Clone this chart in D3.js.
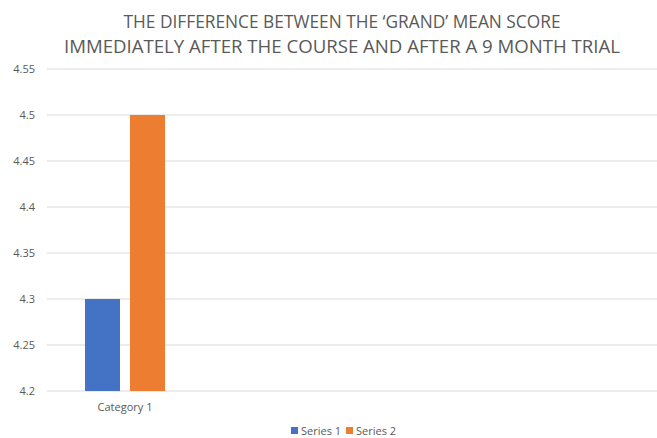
<!DOCTYPE html>
<html>
<head>
<meta charset="utf-8">
<script src="https://cdn.jsdelivr.net/npm/d3@7"></script>
<style>
  body { margin: 0; background: #fff; }
  text { font-family: "Open Sans", "Liberation Sans", sans-serif; fill: #595959; }
</style>
</head>
<body>
<script>
var width = 657, height = 438;

// data
const categories = ["Category 1"];
const seriesNames = ["Series 1", "Series 2"];
const series1 = [4.3];
const series2 = [4.5];
const yTicks = [4.2, 4.25, 4.3, 4.35, 4.4, 4.45, 4.5, 4.55];
const titleLines = ["THE DIFFERENCE BETWEEN THE \u2018GRAND\u2019 MEAN SCORE",
                    "IMMEDIATELY AFTER THE COURSE AND AFTER A 9 MONTH TRIAL"];
const colors = ["#4472C4", "#ED7D31"];

var svg = d3.select("body").append("svg")
  .attr("width", width).attr("height", height);

var plotLeft = 47, plotRight = 657, plotTop = 69, plotBottom = 391;

var yscale = d3.scaleLinear().domain([4.2, 4.55]).range([plotBottom, plotTop]);
// only the first category band is visible in the chart
var xscale = d3.scaleBand().domain(categories).range([plotLeft, plotLeft + 156]);
var inner = d3.scaleBand().domain(seriesNames)
  .range([0, xscale.bandwidth()]).paddingInner(0.222).paddingOuter(0.844);

// gridlines
svg.append("g").selectAll("line")
  .data(yTicks).enter().append("line")
  .attr("x1", plotLeft).attr("x2", plotRight)
  .attr("y1", d => yscale(d)).attr("y2", d => yscale(d))
  .attr("stroke", "#d9d9d9").attr("stroke-width", 1);

// y axis labels
var y_axis = d3.axisLeft(yscale).tickValues(yTicks).tickSize(0).tickPadding(0)
  .tickFormat(d3.format(""));
var yg = svg.append("g").attr("transform", "translate(35,0)").call(y_axis);
yg.select(".domain").remove();
yg.selectAll("text").style("font-size", "11px").attr("fill", "#595959")
  .attr("font-family", "Open Sans, Liberation Sans, sans-serif");

// bars
var rows = categories.map((c, i) => ({ cat: c, vals: [series1[i], series2[i]] }));
var groups = svg.selectAll("g.cat").data(rows).enter().append("g")
  .attr("class", "cat")
  .attr("transform", d => "translate(" + xscale(d.cat) + ",0)");
groups.selectAll("rect")
  .data(d => d.vals.map((v, j) => ({ name: seriesNames[j], v: v, j: j })))
  .enter().append("rect")
  .attr("x", d => inner(d.name))
  .attr("width", inner.bandwidth())
  .attr("y", d => yscale(d.v))
  .attr("height", d => plotBottom - yscale(d.v))
  .attr("fill", d => colors[d.j]);

// category labels
svg.selectAll("text.cat").data(categories).enter().append("text")
  .attr("class", "cat")
  .attr("x", d => xscale(d) + xscale.bandwidth() / 2)
  .attr("y", 411)
  .attr("text-anchor", "middle")
  .style("font-size", "11px")
  .text(d => d);

// title
svg.selectAll("text.title").data(titleLines).enter().append("text")
  .attr("class", "title")
  .attr("x", 342)
  .attr("y", (d, i) => 28 + i * 25)
  .attr("text-anchor", "middle")
  .attr("textLength", (d, i) => i == 0 ? 437 : 556)
  .attr("lengthAdjust", "spacingAndGlyphs")
  .style("font-size", "18px")
  .text(d => d);

// legend
var legendX = [291, 346];
var lg = svg.selectAll("g.legend").data(seriesNames).enter().append("g")
  .attr("class", "legend")
  .attr("transform", (d, i) => "translate(" + legendX[i] + ",427)");
lg.append("rect").attr("width", 7).attr("height", 7).attr("y", 0)
  .attr("fill", (d, i) => colors[i]);
lg.append("text").attr("x", 10).attr("y", 8).style("font-size", "11px").text(d => d);
</script>
</body>
</html>
